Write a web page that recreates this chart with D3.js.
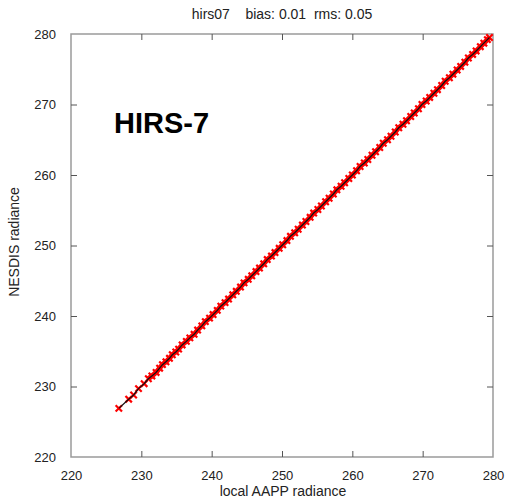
<!DOCTYPE html>
<html><head><meta charset="utf-8">
<script src="https://cdn.jsdelivr.net/npm/d3@7"></script>
<style>body{margin:0;background:#fff}svg{display:block}text{font-family:"Liberation Sans",Arial,sans-serif;fill:#222}</style>
</head><body><svg id="c" width="508" height="502"></svg>
<script>
const xTicks = [220, 230, 240, 250, 260, 270, 280];
const yTicks = [220, 230, 240, 250, 260, 270, 280];
const localAAPP = [226.8,228.2,228.9,229.6,230.4,231.0,231.5,232.1,232.6,233.0,233.5,234.0,234.4,234.9,235.3,235.8,236.4,236.9,237.5,238.0,238.6,239.1,239.7,240.2,240.8,241.3,241.9,242.4,243.0,243.5,244.1,244.6,245.2,245.7,246.3,246.8,247.4,247.9,248.5,249.0,249.6,250.1,250.7,251.2,251.8,252.3,252.9,253.4,254.0,254.5,255.1,255.6,256.2,256.7,257.3,257.8,258.4,258.9,259.5,260.0,260.6,261.1,261.7,262.2,262.8,263.3,263.9,264.4,265.0,265.5,266.1,266.6,267.2,267.7,268.3,268.8,269.4,269.9,270.5,271.0,271.6,272.1,272.7,273.2,273.8,274.3,274.9,275.4,276.0,276.5,277.1,277.6,278.2,278.7,279.2,279.5];
const nesdis = [226.9,228.2,228.8,229.7,230.4,231.1,231.5,232.0,232.6,233.1,233.5,234.0,234.5,234.9,235.3,235.9,236.4,236.9,237.4,238.0,238.6,239.2,239.7,240.2,240.8,241.4,241.9,242.4,243.0,243.5,244.1,244.7,245.2,245.7,246.3,246.8,247.4,248.0,248.5,249.0,249.6,250.1,250.7,251.3,251.8,252.3,252.9,253.4,254.0,254.6,255.1,255.6,256.2,256.7,257.3,257.9,258.4,258.9,259.5,260.0,260.6,261.2,261.7,262.2,262.8,263.3,263.9,264.5,265.0,265.5,266.1,266.7,267.2,267.7,268.3,268.8,269.4,270.0,270.5,271.0,271.6,272.1,272.7,273.3,273.8,274.3,274.9,275.4,276.0,276.6,277.1,277.6,278.2,278.7,279.2,279.5];
const title = "hirs07    bias: 0.01  rms: 0.05";
const xLabel = "local AAPP radiance";
const yLabel = "NESDIS radiance";
const badge = "HIRS-7";

const svg = d3.select("#c");
const L = 71, R = 493, T = 34, B = 457;
const x = d3.scaleLinear().domain([220, 280]).range([L, R]);
const y = d3.scaleLinear().domain([220, 280]).range([B, T]);
const axisColor = "#9a9a9a";

svg.append("rect").attr("x", L).attr("y", T).attr("width", R - L).attr("height", B - T)
  .attr("fill", "none").attr("stroke", axisColor).attr("stroke-width", 1.5);

function styleAxis(g, labels) {
  g.select(".domain").remove();
  g.selectAll(".tick line").attr("stroke", "#555").attr("stroke-width", 1);
  g.selectAll(".tick text").attr("font-size", 13).attr("fill", "#222")
    .style("display", labels ? null : "none");
}
const inner = xTicks.slice(1, -1);
const innerY = yTicks.slice(1, -1);
svg.append("g").attr("transform", `translate(0,${B})`)
  .call(d3.axisBottom(x).tickValues(xTicks).tickSize(-6).tickPadding(14).tickFormat(d3.format("d")))
  .call(g => styleAxis(g, true))
  .call(g => g.selectAll(".tick line").filter(d => !inner.includes(d)).remove());
svg.append("g").attr("transform", `translate(0,${T})`)
  .call(d3.axisTop(x).tickValues(inner).tickSize(-6))
  .call(g => styleAxis(g, false));
svg.append("g").attr("transform", `translate(${L},0)`)
  .call(d3.axisLeft(y).tickValues(yTicks).tickSize(-6).tickPadding(15).tickFormat(d3.format("d")))
  .call(g => styleAxis(g, true))
  .call(g => g.selectAll(".tick line").filter(d => !innerY.includes(d)).remove());
svg.append("g").attr("transform", `translate(${R},0)`)
  .call(d3.axisRight(y).tickValues(innerY).tickSize(-6))
  .call(g => styleAxis(g, false));

const pts = localAAPP.map((v, i) => [v, nesdis[i]]);
const line = d3.line().x(d => x(d[0])).y(d => y(d[1]));

svg.append("path").datum(pts.filter(d => d[0] >= 231))
  .attr("d", line).attr("stroke", "#ff0000").attr("stroke-width", 5).attr("fill", "none");

const s = 3.2;
svg.append("g").selectAll("path").data(pts).join("path")
  .attr("d", d => { const cx = x(d[0]), cy = y(d[1]);
    return `M${cx-s},${cy-s}L${cx+s},${cy+s}M${cx-s},${cy+s}L${cx+s},${cy-s}`; })
  .attr("stroke", "#ff0000").attr("stroke-width", 2.2).attr("fill", "none");

svg.append("path").datum(pts)
  .attr("d", line).attr("stroke", "#111").attr("stroke-width", 1.3).attr("fill", "none");

svg.append("text").attr("x", 282).attr("y", 19).attr("text-anchor", "middle")
  .attr("font-size", 14).attr("xml:space", "preserve").style("white-space", "pre").text(title);
svg.append("text").attr("x", 283).attr("y", 496).attr("text-anchor", "middle")
  .attr("font-size", 14).text(xLabel);
svg.append("text").attr("transform", "translate(19,242) rotate(-90)").attr("text-anchor", "middle")
  .attr("font-size", 14).text(yLabel);
svg.append("text").attr("x", 114).attr("y", 133).attr("font-size", 29).attr("font-weight", "bold")
  .style("fill", "#000").text(badge);
</script></body></html>
